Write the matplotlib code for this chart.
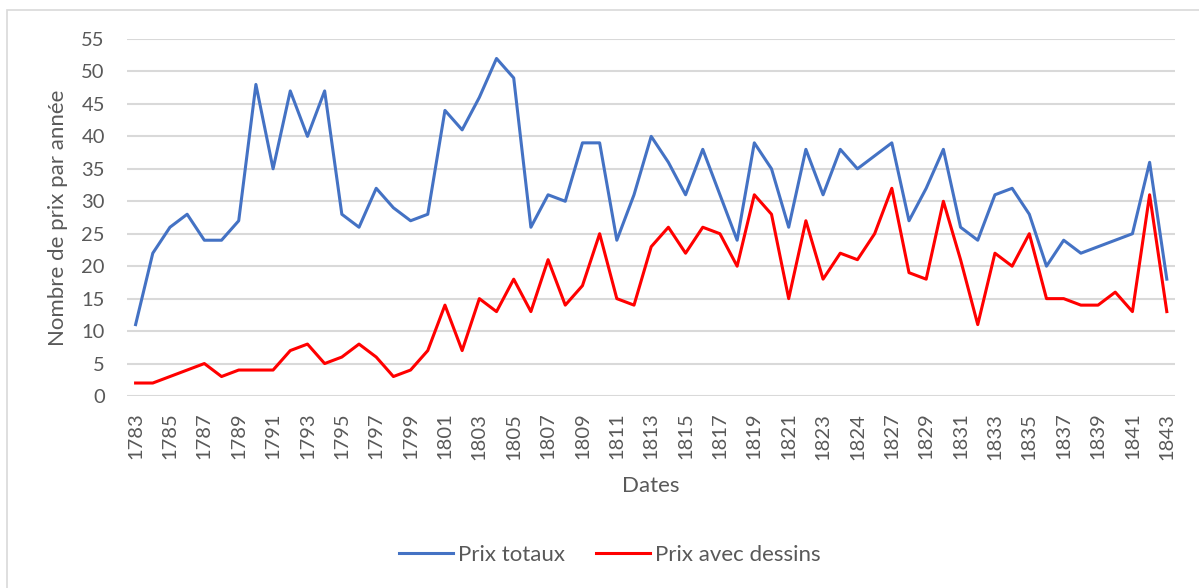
import matplotlib
matplotlib.use('Agg')
import matplotlib.pyplot as plt
from matplotlib.patches import Rectangle

# categories (one per data row; some years repeat / are skipped in the source table)
years = [str(y) for y in range(1783, 1825)] + ['1824', '1826'] + [str(y) for y in range(1827, 1844)]

prix_totaux = [11, 22, 26, 28, 24, 24, 27, 48, 35, 47,
               40, 47, 28, 26, 32, 29, 27, 28, 44, 41,
               46, 52, 49, 26, 31, 30, 39, 39, 24, 31,
               40, 36, 31, 38, 31, 24, 39, 35, 26, 38,
               31, 38, 35, 37, 39, 27, 32, 38, 26, 24,
               31, 32, 28, 20, 24, 22, 23, 24, 25, 36,
               18]

prix_dessins = [2, 2, 3, 4, 5, 3, 4, 4, 4, 7,
                8, 5, 6, 8, 6, 3, 4, 7, 14, 7,
                15, 13, 18, 13, 21, 14, 17, 25, 15, 14,
                23, 26, 22, 26, 25, 20, 31, 28, 15, 27,
                18, 22, 21, 25, 32, 19, 18, 30, 21, 11,
                22, 20, 25, 15, 15, 14, 14, 16, 13, 31,
                13]

y_ticks = list(range(0, 60, 5))

plt.rcParams['font.family'] = ['Lato', 'DejaVu Sans']
text_col = '#595959'
grid_col = '#d9d9d9'

W, H = 1199, 588
fig = plt.figure(figsize=(W / 100, H / 100), dpi=100)

# chart frame (cropped on right and bottom in the reference)
fig.patches.append(Rectangle((7 / W, -0.05), 1.2, 1 - 10 / H + 0.05,
                             transform=fig.transFigure, fill=False,
                             edgecolor=grid_col, linewidth=1.2))

ax = fig.add_axes([127 / W, 1 - 396 / H, (1175.4 - 127) / W, (396 - 39) / H])

x = list(range(len(years)))
ax.plot(x, prix_totaux, color='#4472C4', lw=2.2, label='Prix totaux', solid_joinstyle='round')
ax.plot(x, prix_dessins, color='#FF0000', lw=2.2, label='Prix avec dessins', solid_joinstyle='round')

ax.set_xlim(-0.5, len(years) - 0.5)
ax.set_ylim(0, 55)
ax.set_yticks(y_ticks)
ax.set_xticks(x[::2])
ax.set_xticklabels(years[::2], rotation=90)
ax.yaxis.grid(True, color=grid_col, lw=1.5)
ax.set_axisbelow(True)
for s in ax.spines.values():
    s.set_visible(False)
ax.tick_params(axis='both', length=0, colors=text_col, labelsize=14.5)
ax.tick_params(axis='x', pad=12)
ax.tick_params(axis='y', pad=16)

fig.text(58 / W, 1 - 217.5 / H, 'Nombre de prix par année', rotation=90,
         ha='center', va='center', fontsize=16, color=text_col)
fig.text(651 / W, 1 - 486 / H, 'Dates', ha='center', va='center',
         fontsize=16, color=text_col)

leg = fig.legend(loc='center', bbox_to_anchor=(610 / W, 1 - 555 / H), ncol=2,
                 frameon=False, fontsize=16, handlelength=2.4,
                 handletextpad=0.25, columnspacing=1.4)
for t in leg.get_texts():
    t.set_color(text_col)

fig.savefig('out.png', dpi=100)
